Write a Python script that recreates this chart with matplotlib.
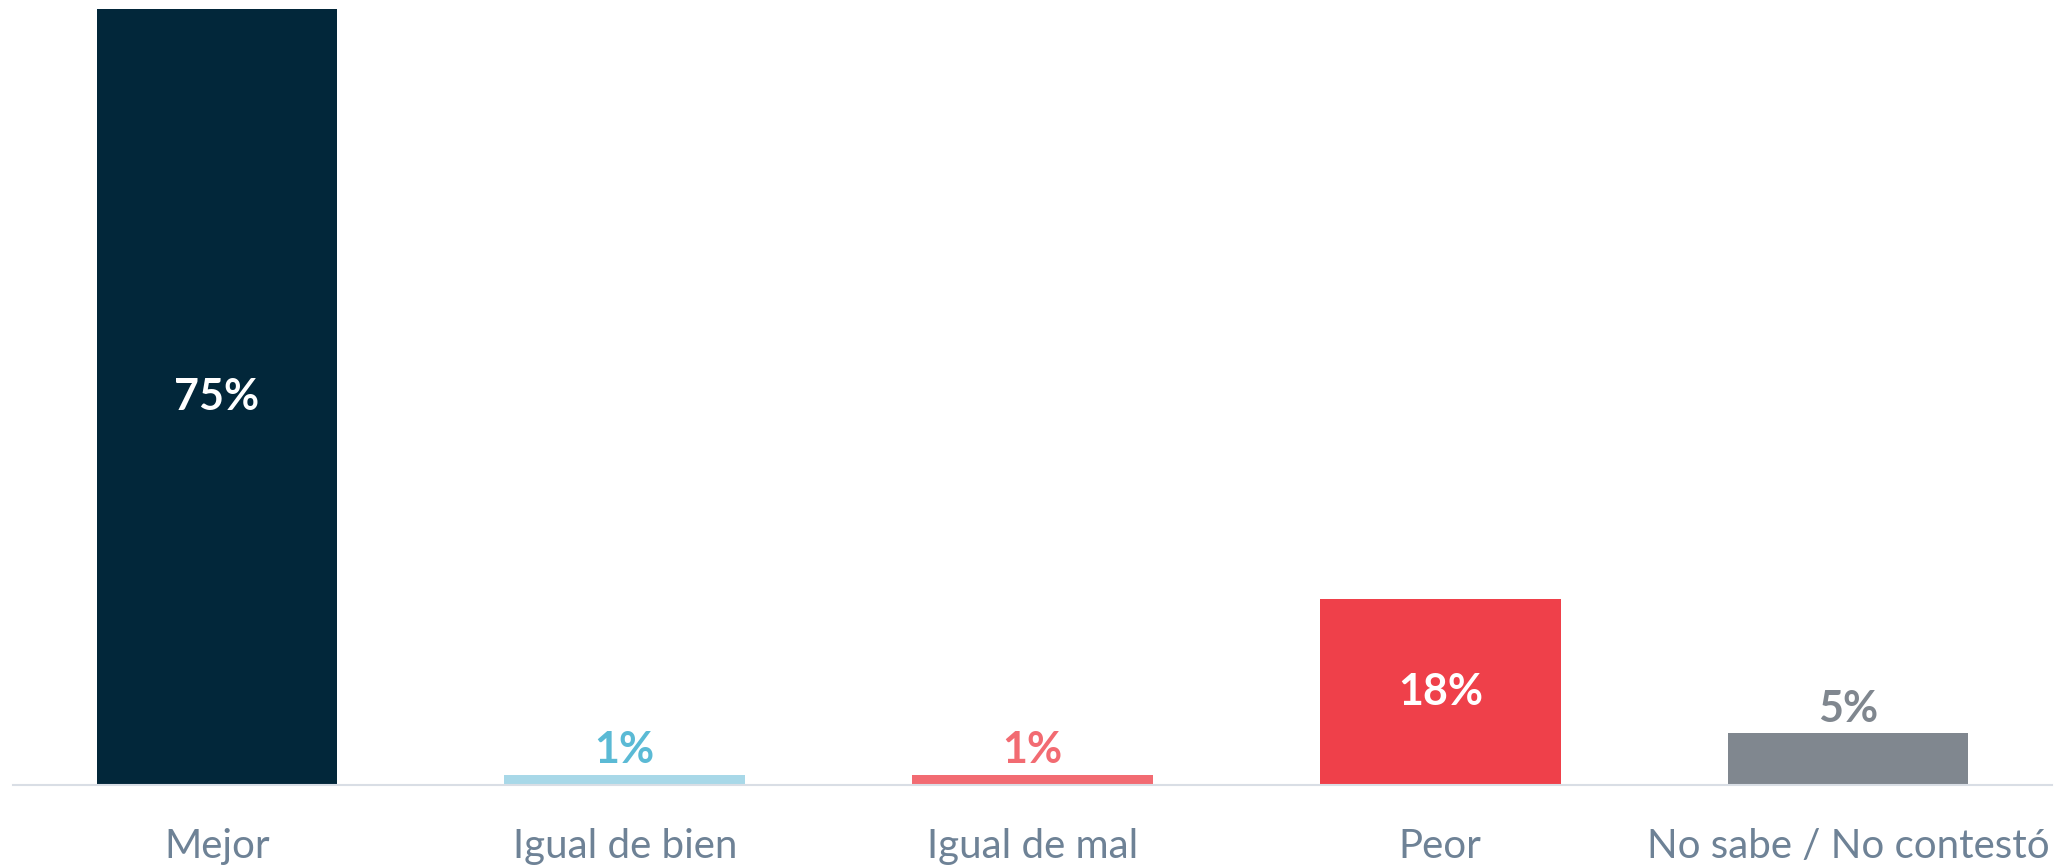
import matplotlib.pyplot as plt

# data
categories = ['Mejor', 'Igual de bien', 'Igual de mal', 'Peor', 'No sabe / No contestó']
values = [75, 1, 1, 18, 5]
labels = ['75%', '1%', '1%', '18%', '5%']

bar_colors = ['#02273A', '#A8D8E8', '#F26B72', '#EF404A', '#80878F']
label_colors = ['white', '#5BBAD5', '#F26B72', 'white', '#80878F']
inside = [True, False, False, True, False]

plt.rcParams['font.family'] = ['Lato', 'DejaVu Sans']

fig = plt.figure(figsize=(20.66, 8.67), dpi=100)
ax = fig.add_axes([0.0063, 0.0946, 0.9869, 0.895])

x = range(len(categories))
ax.bar(x, values, width=0.59, color=bar_colors, zorder=2)

for i, (v, lab) in enumerate(zip(values, labels)):
    if inside[i]:
        ax.text(i, v / 2, lab, ha='center', va='center', color=label_colors[i],
                fontsize=31, fontweight='bold')
    else:
        ax.annotate(lab, (i, v), xytext=(0, 3), textcoords='offset points',
                    ha='center', va='bottom', color=label_colors[i],
                    fontsize=31, fontweight='bold')

ax.set_xlim(-0.5, len(categories) - 0.5)
ax.set_ylim(0, 75)
ax.set_xticks(list(x))
ax.set_xticklabels(categories, fontsize=29, color='#6E8296')
ax.tick_params(axis='x', length=0, pad=31)
ax.set_yticks([])
for s in ['top', 'right', 'left']:
    ax.spines[s].set_visible(False)
ax.spines['bottom'].set_color('#D9DEE5')
ax.spines['bottom'].set_linewidth(1.5)

fig.savefig('out.png', dpi=100)
